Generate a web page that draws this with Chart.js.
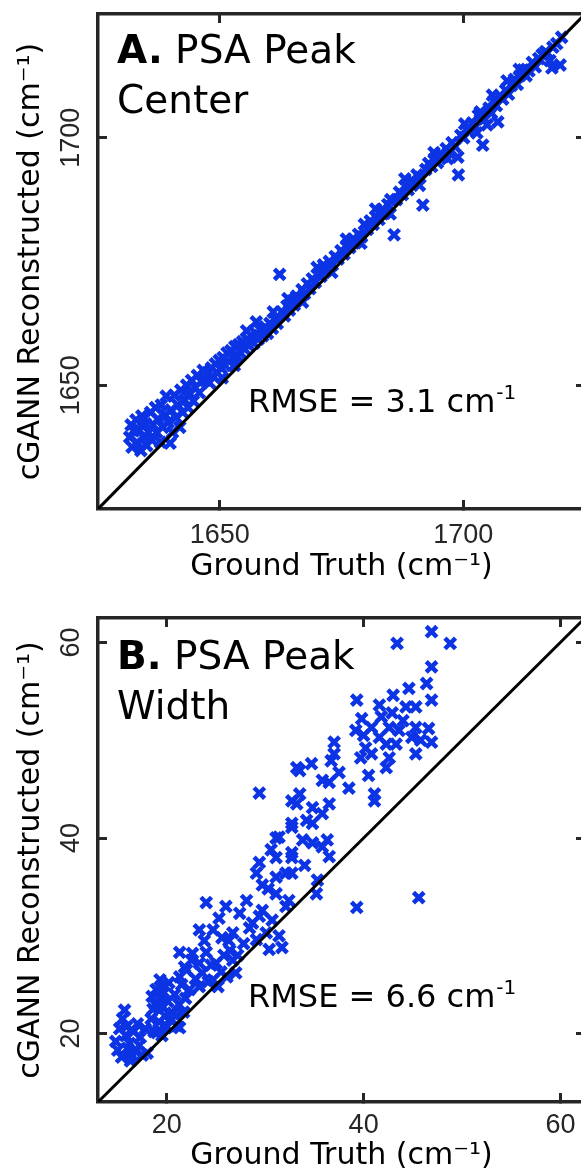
<!DOCTYPE html>
<html>
<head>
<meta charset="utf-8">
<script src="https://cdn.jsdelivr.net/npm/chart.js@4.4.0/dist/chart.umd.min.js"></script>
<style>
  html, body { margin: 0; padding: 0; background: #fff; overflow: hidden; }
  canvas { position: absolute; left: 0; }
  #center { top: 0; }
  #width { top: 590px; }
</style>
</head>
<body>
<canvas id="center" width="600" height="590"></canvas>
<canvas id="width" width="600" height="584"></canvas>
<script>
// axis ranges and tick positions
const rangeA = [1625, 1725];
const ticksA = [1650, 1700];
const rangeB = [13, 62.5];
const ticksB = [20, 40, 60];

// [ground truth, cGANN reconstructed], peak center (cm-1)
const pointsA = [
  [1631.5,1639.5],[1631.8,1642],[1632,1637.5],[1632.3,1640.8],[1632.8,1643],[1633,1638.5],[1633.4,1641],[1633.8,1636.8],
  [1634,1643.8],[1634.3,1639.6],[1634.8,1642.2],[1635,1637.8],[1635.4,1640.5],[1635.8,1644.5],[1636,1639],[1636.3,1642],
  [1636.8,1645.5],[1637,1640.5],[1637.3,1643.2],[1637.8,1638.5],[1638,1646],[1638.3,1641.5],[1638.8,1644],[1639,1647.8],
  [1639.4,1642.5],[1639.8,1638.3],[1640,1645],[1640.3,1640.5],[1640.7,1648],[1641,1643.5],[1641.4,1646],[1641.8,1641.5],
  [1642,1649],[1642.4,1644.5],[1642.8,1647],[1643.2,1650],[1643.5,1645.5],[1643.9,1648.2],[1644.2,1651],[1644.6,1646.8],
  [1645,1649.5],[1645.4,1652],[1645.8,1648.5],[1646.2,1650.8],[1646.6,1653],
  [1647,1651],[1647.4,1652.5],[1647.9,1650.5],[1648.3,1653.5],[1648.7,1651.8],[1649.1,1654.3],[1649.5,1652.5],[1649.9,1655],
  [1650.3,1653.5],[1650.5,1651.5],[1650.7,1655.6],[1651.1,1654],[1651.5,1656.5],[1651.9,1654.8],[1652.3,1657],[1652.7,1655.5],
  [1653,1654],[1653.1,1657.8],[1653.5,1656],[1653.9,1658.2],[1654.3,1656.5],[1654.7,1658.8],[1655.1,1657.3],[1655.5,1661],
  [1655.6,1659.3],[1656,1658],[1656.5,1660],[1657,1658.5],[1657.4,1660.5],[1657.5,1662.8],[1657.9,1659.3],[1658.3,1661.2],
  [1658.8,1660],[1659.3,1661.8],[1659.8,1660.5],[1660.3,1662.5],[1660.8,1661.5],[1661,1664.8],[1661.3,1663.3],[1661.8,1662.5],
  [1662.3,1672.4],
  [1662.8,1664.8],[1663.3,1664],[1663.8,1666],[1664,1667.5],[1664.3,1665.2],[1664.8,1667],[1665.3,1666.2],[1665.8,1668],
  [1666.4,1667.5],[1666.9,1669.3],[1667,1666.8],[1667.4,1668.5],[1668,1670.5],[1668.5,1669.5],[1669,1671.5],[1669.6,1670.8],
  [1670,1673.8],[1670.2,1672.5],[1670.8,1672],[1671.3,1674.3],[1671.9,1673.2],[1672.5,1675],[1673,1672.8],[1673.1,1674.3],
  [1673.7,1676],[1674.3,1675.5],[1674.9,1677.2],[1675.5,1676.5],[1676,1679.5],[1676.1,1678.3],[1676.7,1677.8],[1677.3,1679.5],
  [1677.9,1678.8],[1678.5,1680.5],[1679,1678.7],[1679.1,1680],[1679.7,1682.5],[1680.3,1681.5],[1680.9,1683.2],[1681.5,1682.5],
  [1682,1685.6],[1682.1,1684],[1682.7,1683.5],[1683.3,1685.5],[1683.9,1684.8],[1684.5,1686.5],[1685,1684.6],[1685.1,1687.5],
  [1685.8,1680.4],[1686.3,1687.5],[1686.9,1689],[1687.5,1688.5],[1688,1691.7],[1688.1,1690.3],[1688.7,1689.5],[1689.3,1691.3],
  [1689.9,1691],[1690.5,1692.5],[1691,1690.4],[1691.1,1692],[1691.7,1686.4],[1692.3,1693.6],[1692.9,1694.8],[1693.5,1694.2],
  [1694,1697],[1694.1,1695.8],[1694.7,1695],[1695.3,1696.8],[1695.9,1696.2],[1696.5,1697.8],[1696.8,1695.8],[1697.1,1697],
  [1697.7,1699],[1698.3,1698.2],[1698.9,1696.1],[1699,1692.5],[1699.5,1700.5],[1700.1,1700],
  [1700.3,1702.8],[1700.7,1701.8],[1701.3,1701.2],[1701.9,1703],[1702.5,1702.2],[1702.8,1701],[1703.1,1704.5],[1703.5,1705.2],
  [1704,1698.5],[1704.4,1703.8],[1704.9,1702.6],[1705.3,1706],[1705.8,1705],[1706,1708.6],[1706.3,1707.5],[1706.8,1706.5],
  [1707.1,1703.2],[1707.5,1708.5],[1708.1,1707.8],[1708.7,1709.6],[1709,1711.5],[1709.3,1708.8],[1709.9,1710.6],[1710.5,1711.8],
  [1711.1,1710.8],[1711.5,1713.8],[1711.7,1712.6],[1712.3,1713.7],[1712.9,1712.5],[1713.5,1713.5],[1714.2,1715.2],[1714.8,1714.3],
  [1715.5,1716],[1716.2,1716.8],[1716.9,1717.4],[1717.2,1717.1],[1717.8,1715.6],[1718.2,1714.1],[1718.4,1718.3],[1719.2,1719],
  [1719.9,1714.7],[1720.2,1720.3]
];

// [ground truth, cGANN reconstructed], peak width (cm-1)
const pointsB = [
  [14.8,19.2],[15.0,18.3],[15.2,20.5],[15.4,17.6],[15.5,21.5],[15.7,22.4],[15.8,19.8],[15.9,20.7],[16.0,18.5],[16.2,19.0],
  [16.3,17.2],[16.4,17.6],[16.6,20.2],[16.8,18.2],[17.0,21.0],[17.2,18.8],[17.3,19.6],[17.5,17.8],[17.8,20.5],[18.0,18.0],
  [18.4,21.5],[18.5,23.8],[18.6,22.5],[18.7,20.2],[18.8,23.0],[18.9,24.5],[19.0,20.1],[19.1,22.8],[19.2,21.2],[19.3,25.5],
  [19.4,23.5],[19.5,19.8],[19.5,24.8],[19.6,22.7],[19.7,24.2],[19.8,21.8],[19.9,20.6],[20.0,20.7],[20.1,23.3],[20.2,25.2],
  [20.3,22.0],[20.4,21.5],[20.6,22.1],[20.8,24.0],[20.9,21.8],[21.0,20.8],[21.2,23.0],[21.3,20.6],[21.5,25.0],[21.7,22.2],
  [21.9,23.6],
  [21.3,28.3],[21.3,25.8],[21.8,26.8],[22.0,26.5],[22.3,24.5],[22.5,27.5],[22.6,28.2],[22.9,25.6],[23.3,24.8],[23.3,27.2],
  [23.6,26.2],[23.8,29.5],[24.0,28.3],[24.2,25.3],[24.5,27.0],[24.7,25.5],[25.0,27.2],[25.2,24.8],[25.5,26.3],[25.6,29.8],
  [25.8,28.0],[26.1,25.8],[26.4,28.5],[26.7,27.5],[27.0,26.2],[27.2,28.0],
  [23.3,30.6],[24.0,33.4],[24.7,30.6],[25.3,31.8],[26.0,33.0],[26.3,29.5],[26.7,30.3],[27.4,32.3],[27.8,29.2],[28.1,33.6],
  [28.4,30.8],[28.7,31.3],[29.1,29.6],[29.4,32.0],[29.7,32.6],[30.1,30.3],[30.4,28.6],[30.7,31.6],[31.1,34.3],[31.4,30.0],
  [31.7,28.8],[32.1,33.0],[32.4,33.6],
  [29.4,44.6],[31.1,40.0],[33.2,47.2],[32.7,43.8],[32.7,41.1],[29.4,37.5],[31.1,38.0],[29.1,36.4],[31.1,36.0],[29.7,35.2],
  [32.7,38.0],[32.7,36.4],[35.2,34.3],[39.3,32.9],[45.6,33.9],[33.5,46.9],[33.5,44.5],[33.2,43.5],[34.8,43.1],[36.5,43.5],
  [35.8,42.5],[34.2,41.8],[32.7,41.5],[34.8,41.5],[36.3,39.8],[34.8,39.5],[35.8,39.1],[36.5,38.1],[32.7,38.5],[32.1,36.4],
  [31.4,40.1],[35.3,35.7],[34.7,47.6],[35.8,45.9],[36.5,45.7],[38.5,45.1],[36.7,47.9],[37.5,46.7],[37.0,49.8],[37.0,48.6],
  [33.8,39.8],[30.3,34.8],[34.0,37.2],[30.6,38.8],
  [46.9,61.1],[43.4,59.9],[48.8,59.9],[46.9,57.5],[46.4,55.8],[44.6,55.3],[46.9,54.1],[39.3,54.1],[41.6,53.6],[42.9,52.8],
  [44.3,53.4],[45.3,53.4],[39.8,52.2],[39.2,51.0],[40.8,51.3],[42.6,51.3],[43.6,51.0],[45.3,51.3],[46.6,51.2],[46.9,49.8],
  [44.9,50.3],[41.6,50.3],[40.2,49.2],[42.3,49.6],[43.3,49.6],[45.3,48.6],[40.8,48.6],[39.7,48.2],[42.6,48.2],[42.3,47.2],
  [40.5,46.4],[41.1,44.5],[41.1,43.8],[43.0,54.6],[44.0,52.0],[41.8,52.4],[45.8,50.0],[40.0,50.5]
];

const titleA = ["A.", "PSA Peak", "Center"];
const titleB = ["B.", "PSA Peak", "Width"];
const rmseA = "3.1";
const rmseB = "6.6";

const blue = "rgb(12, 52, 228)";
const axisColor = "#262626";

Chart.defaults.font.family = "DejaVu Sans";

// panel label in the top-left corner and the RMSE note
const panelText = {
  id: "panelText",
  afterDraw(chart, args, o) {
    const { ctx, chartArea: a } = chart;
    ctx.save();
    ctx.fillStyle = "#000";
    ctx.textAlign = "left";
    ctx.textBaseline = "alphabetic";
    const tx = a.left + 19, ty = a.top + o.titleY;
    ctx.font = 'bold 39px "DejaVu Sans"';
    ctx.fillText(o.title[0], tx, ty);
    const w = ctx.measureText(o.title[0]).width;
    ctx.font = '39px "DejaVu Sans"';
    ctx.fillText(" " + o.title[1], tx + w, ty);
    ctx.fillText(o.title[2], tx, ty + 50);

    const label = "RMSE = " + o.rmse + " cm";
    const rx = a.left + 150, ry = a.bottom - o.rmseY;
    ctx.font = '32px "DejaVu Sans"';
    ctx.fillText(label, rx, ry);
    const lw = ctx.measureText(label).width;
    ctx.font = '20px "DejaVu Sans"';
    ctx.fillText("-1", rx + lw + 1, ry - 13);
    ctx.restore();
  },
};

function panel(id, range, ticks, points, title, rmse, lay) {
  const setTicks = (scale) => { scale.ticks = ticks.map((v) => ({ value: v })); };
  const frame = (pos, extra) => Object.assign({
    type: "linear",
    position: pos,
    min: range[0],
    max: range[1],
    afterBuildTicks: setTicks,
    border: { display: true, color: axisColor, width: 3.5 },
    grid: { display: true, drawOnChartArea: false, drawTicks: true, tickLength: -9, tickWidth: 3, tickColor: axisColor },
    ticks: { display: false },
  }, extra);
  const tickFont = { family: "Liberation Sans", size: 27 };
  const plain = (v) => String(v);

  return new Chart(document.getElementById(id), {
    type: "scatter",
    data: {
      datasets: [
        {
          data: [{ x: range[0], y: range[0] }, { x: range[1], y: range[1] }],
          showLine: true,
          borderColor: "#000",
          borderWidth: 3,
          pointRadius: 0,
        },
        {
          data: points.map((p) => ({ x: p[0], y: p[1] })),
          pointStyle: "crossRot",
          pointRadius: 7.5,
          pointBorderWidth: 4.5,
          pointBorderColor: blue,
          pointBackgroundColor: blue,
        },
      ],
    },
    options: {
      responsive: false,
      devicePixelRatio: 1,
      animation: false,
      events: [],
      layout: { padding: { left: 0, top: lay.top, right: 15, bottom: 0 } },
      plugins: {
        legend: { display: false },
        tooltip: { enabled: false },
        panelText: { title: title, rmse: rmse, titleY: lay.titleY, rmseY: lay.rmseY },
      },
      scales: {
        x: frame("bottom", {
          ticks: { display: true, font: tickFont, color: axisColor, padding: lay.xPad, minRotation: 0, maxRotation: 0, autoSkip: false, callback: plain },
          title: { display: true, text: "Ground Truth (cm⁻¹)", font: { size: 30 }, color: "#000", padding: { top: 0, bottom: lay.xTitle } },
          afterFit: (s) => { s.height = lay.xHeight; s.paddingLeft = 0; s.paddingRight = 0; },
        }),
        y: frame("left", {
          ticks: { display: true, font: tickFont, color: axisColor, padding: lay.yPad, minRotation: 90, maxRotation: 90, crossAlign: "center", callback: plain },
          title: { display: true, text: "cGANN Reconstructed (cm⁻¹)", font: { size: 30 }, color: "#000", padding: { top: 13, bottom: 0 } },
          afterFit: (s) => { s.width = 98; s.paddingTop = 0; s.paddingBottom = 0; },
        }),
        xTop: frame("top", { afterFit: (s) => { s.height = 0; s.paddingLeft = 0; s.paddingRight = 0; } }),
        yRight: frame("right", { afterFit: (s) => { s.width = 0; s.paddingTop = 0; s.paddingBottom = 0; } }),
      },
    },
    plugins: [panelText],
  });
}

panel("center", rangeA, ticksA, pointsA, titleA, rmseA,
  { top: 14, xHeight: 81, xPad: 19, xTitle: 5, yPad: 5, titleY: 49, rmseY: 97 });
panel("width", rangeB, ticksB, pointsB, titleB, rmseB,
  { top: 28, xHeight: 72, xPad: 16, xTitle: 0, yPad: 20, titleY: 51, rmseY: 95 });
</script>
</body>
</html>
